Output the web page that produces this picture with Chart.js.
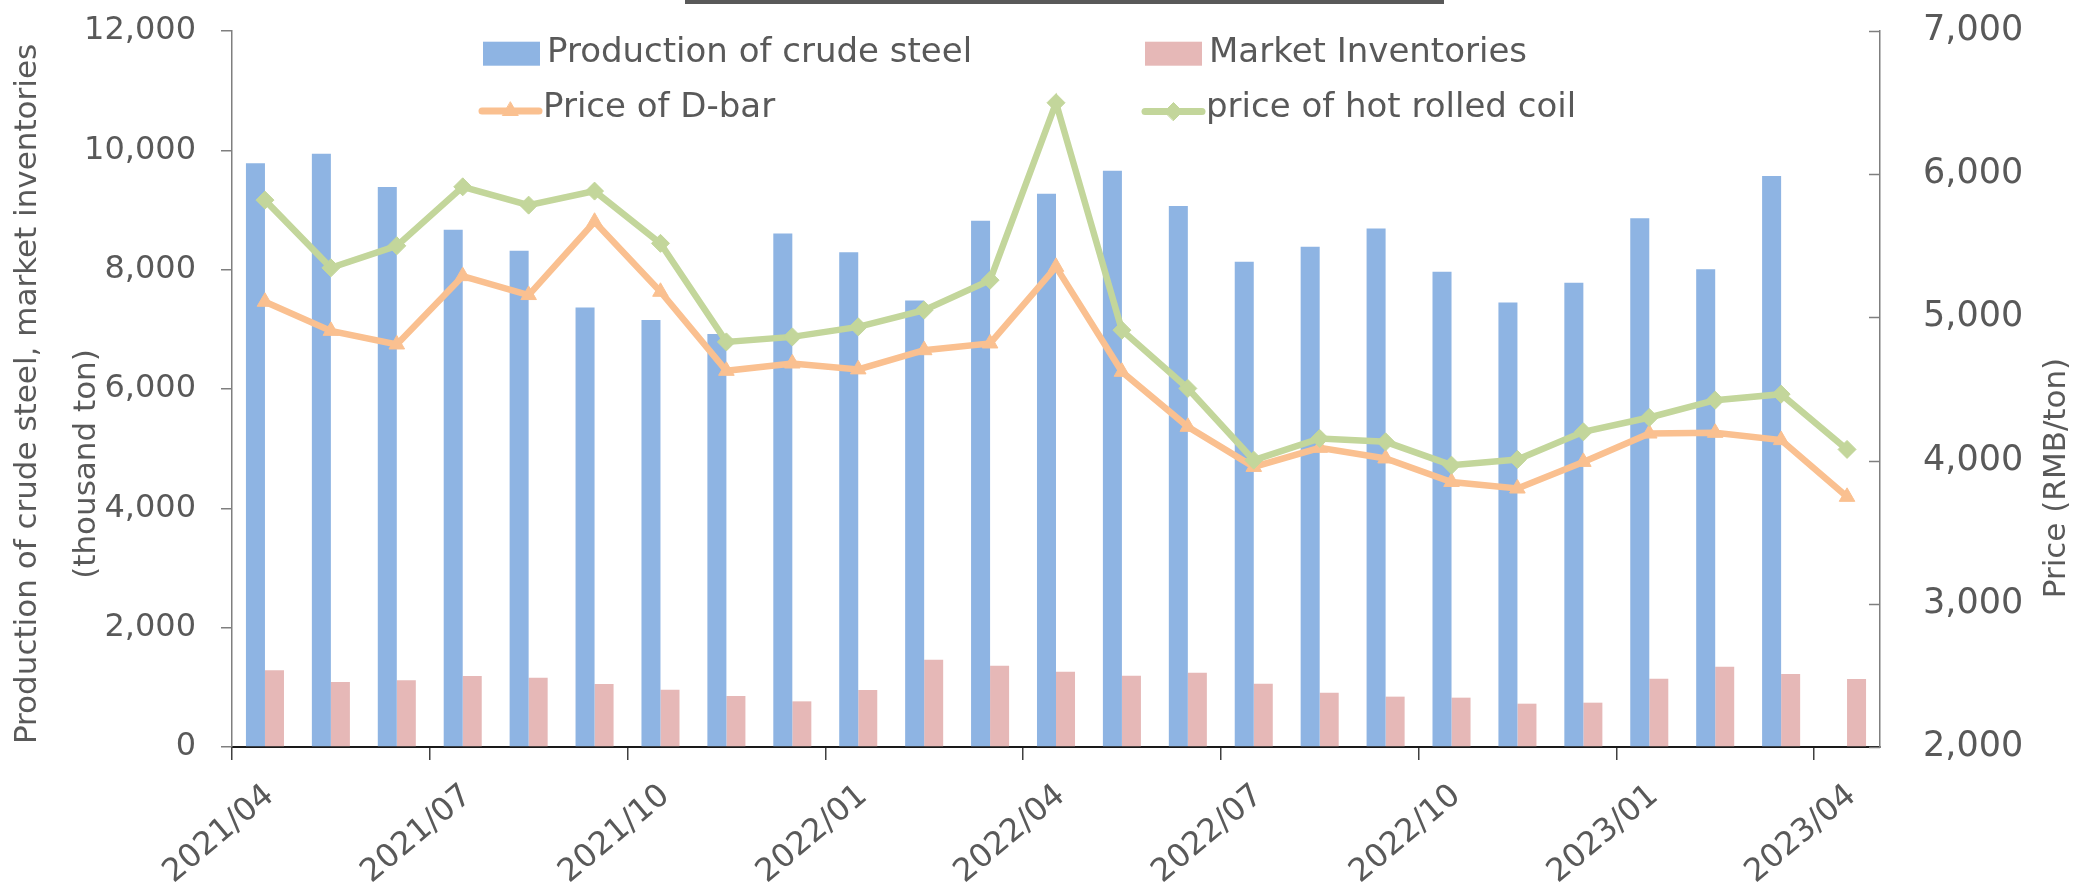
<!DOCTYPE html>
<html>
<head>
<meta charset="utf-8">
<script src="https://cdn.jsdelivr.net/npm/chart.js@4.4.1/dist/chart.umd.min.js"></script>
<style>
  html, body { margin: 0; padding: 0; background: #ffffff; }
  #wrap { position: relative; width: 2092px; height: 890px; }
  #topbar { position: absolute; left: 685px; top: 0; width: 759px; height: 4px; background: #595959; }
</style>
</head>
<body>
<div id="wrap">
  <canvas id="c"></canvas>
  <div id="topbar"></div>
</div>
<script>
// ---------------- data ----------------
const categories = [
  '2021/04','2021/05','2021/06','2021/07','2021/08','2021/09','2021/10','2021/11','2021/12',
  '2022/01','2022/02','2022/03','2022/04','2022/05','2022/06','2022/07','2022/08','2022/09',
  '2022/10','2022/11','2022/12','2023/01','2023/02','2023/03','2023/04'
];
const xTickLabels = ['2021/04','2021/07','2021/10','2022/01','2022/04','2022/07','2022/10','2023/01','2023/04'];
const production = [9782, 9943, 9385, 8669, 8317, 7367, 7155, 6920, 8608, 8290, 7485, 8820,
                    9272, 9658, 9066, 8132, 8384, 8692, 7965, 7451, 7780, 8860, 8005, 9569, null];
const inventories = [1285, 1089, 1117, 1190, 1162, 1056, 961, 855, 765, 955, 1464, 1363,
                     1263, 1196, 1246, 1061, 911, 844, 827, 726, 743, 1145, 1346, 1223, 1140];
const dBarPrice = [5109, 4906, 4811, 5288, 5156, 5668, 5179, 4627, 4678, 4637, 4771, 4818,
                   5353, 4620, 4236, 3956, 4089, 4015, 3851, 3805, 3991, 4189, 4194, 4143, 3747];
const hrcPrice = [5819, 5346, 5500, 5912, 5784, 5882, 5517, 4829, 4864, 4934, 5051, 5260,
                  6499, 4911, 4504, 4003, 4155, 4131, 3968, 4008, 4201, 4301, 4422, 4464, 4078];
const seriesNames = ['Production of crude steel', 'Market Inventories', 'Price of D-bar', 'price of hot rolled coil'];
const leftTitle = ['Production of crude steel, market inventories', '(thousand ton)'];
const rightTitle = 'Price (RMB/ton)';

// ---------------- styles ----------------
const FONT = "'DejaVu Sans', Verdana, sans-serif";
const TEXT = '#595959';
const BLUE = '#8EB4E3';
const PINK = '#E6B8B7';
const ORANGE = '#FAC090';
const GREEN = '#C3D69B';
const FRAME = { left: 232, right: 1880, top: 31, bottom: 747, width: 2092, height: 890 };

const toXY = arr => arr.map((v, i) => ({ x: i + 0.5, y: v }));

Chart.defaults.font.family = FONT;
Chart.defaults.color = TEXT;

// legend drawn inside the plot area, Excel-like 2x2 grid
const legendLayout = [
  { x: 483, y: 53.7, base: 61.7 },
  { x: 1145, y: 53.7, base: 61.7 },
  { x: 479, y: 111, base: 117.3 },
  { x: 1142, y: 111.5, base: 117.3 }
];

const excelLegend = {
  id: 'excelLegend',
  afterDraw(chart) {
    const ctx = chart.ctx;
    ctx.save();
    ctx.font = '34px ' + FONT;
    ctx.textBaseline = 'alphabetic';
    ctx.textAlign = 'left';
    chart.data.datasets.forEach((ds, i) => {
      const p = legendLayout[i];
      if (ds.type === 'bar') {
        ctx.fillStyle = ds.backgroundColor;
        ctx.fillRect(p.x, p.y - 12, 57, 24);
      } else {
        ctx.strokeStyle = ds.borderColor;
        ctx.lineWidth = 7;
        ctx.lineCap = 'round';
        ctx.beginPath();
        ctx.moveTo(p.x + 3, p.y);
        ctx.lineTo(p.x + 60, p.y);
        ctx.stroke();
        ctx.fillStyle = ds.pointBackgroundColor;
        ctx.strokeStyle = ds.pointBorderColor;
        ctx.lineWidth = 1;
        Chart.helpers.drawPoint(ctx, { pointStyle: ds.pointStyle, radius: ds.pointRadius, rotation: 0, borderWidth: 1 }, p.x + 31.5, p.y);
      }
      ctx.fillStyle = TEXT;
      ctx.fillText(ds.label, p.x + 64, p.base);
    });
    ctx.restore();
  }
};

const axisTitles = {
  id: 'axisTitles',
  afterDraw(chart) {
    const ctx = chart.ctx;
    ctx.save();
    ctx.fillStyle = TEXT;
    ctx.font = '31px ' + FONT;
    ctx.textAlign = 'center';
    ctx.textBaseline = 'middle';
    const draw = (t, x, y) => {
      ctx.save();
      ctx.translate(x, y);
      ctx.rotate(-Math.PI / 2);
      ctx.fillText(t, 0, 0);
      ctx.restore();
    };
    draw(leftTitle[0], 28, 394);
    draw(leftTitle[1], 87, 464);
    draw(rightTitle, 2057, 478);
    ctx.restore();
  }
};

// right axis has its tick marks pointing into the plot
const innerTicks = {
  id: 'innerTicks',
  afterDraw(chart) {
    const s = chart.scales.y2;
    const a = chart.chartArea;
    const ctx = chart.ctx;
    ctx.save();
    ctx.strokeStyle = '#7f7f7f';
    ctx.lineWidth = 1.5;
    s.ticks.forEach(t => {
      const py = Math.round(s.getPixelForValue(t.value)) + 0.5;
      ctx.beginPath();
      ctx.moveTo(a.right - 11, py);
      ctx.lineTo(a.right, py);
      ctx.stroke();
    });
    ctx.restore();
  }
};

const fitVertical = w => s => { s.width = w; s.paddingTop = 0; s.paddingBottom = 0; };

new Chart(document.getElementById('c'), {
  data: {
    datasets: [
      { type: 'bar', label: seriesNames[0], data: toXY(production), backgroundColor: BLUE, borderWidth: 0,
        yAxisID: 'y', order: 2, categoryPercentage: 0.577, barPercentage: 1.0 },
      { type: 'bar', label: seriesNames[1], data: toXY(inventories), backgroundColor: PINK, borderWidth: 0,
        yAxisID: 'y', order: 2, categoryPercentage: 0.577, barPercentage: 1.0 },
      { type: 'line', label: seriesNames[2], data: toXY(dBarPrice), borderColor: ORANGE, borderWidth: 6.5,
        pointStyle: 'triangle', pointRadius: 9, pointBackgroundColor: ORANGE, pointBorderColor: ORANGE,
        pointBorderWidth: 1, tension: 0, yAxisID: 'y2', order: 1, clip: false },
      { type: 'line', label: seriesNames[3], data: toXY(hrcPrice), borderColor: GREEN, borderWidth: 6.5,
        pointStyle: 'rectRot', pointRadius: 9, pointBackgroundColor: GREEN, pointBorderColor: GREEN,
        pointBorderWidth: 1, tension: 0, yAxisID: 'y2', order: 0, clip: false }
    ]
  },
  options: {
    responsive: true,
    maintainAspectRatio: false,
    animation: false,
    events: [],
    layout: { padding: { top: FRAME.top, left: 0, right: 0, bottom: 0 }, autoPadding: false },
    plugins: { legend: { display: false }, tooltip: { enabled: false }, title: { display: false } },
    scales: {
      x: {
        type: 'linear',
        position: 'bottom',
        min: 0,
        max: categories.length,
        offset: false,
        afterFit: s => { s.height = FRAME.height - FRAME.bottom; s.paddingLeft = 0; s.paddingRight = 0; },
        grid: { offset: false, drawOnChartArea: false, drawTicks: true, tickLength: 13, color: '#404040', lineWidth: 1.5 },
        border: { display: true, color: '#1a1a1a', width: 2 },
        ticks: {
          stepSize: 3,
          includeBounds: false,
          autoSkip: false,
          maxRotation: 40,
          minRotation: 40,
          padding: 17,
          labelOffset: 38,
          color: TEXT,
          font: { size: 32, family: FONT },
          callback: v => xTickLabels[Math.round(v / 3)] ?? ''
        }
      },
      y: {
        type: 'linear',
        position: 'left',
        min: 0,
        max: 12000,
        afterFit: fitVertical(FRAME.left),
        grid: { drawOnChartArea: false, drawTicks: true, tickLength: 11, color: '#7f7f7f', lineWidth: 1.5 },
        border: { display: true, color: '#7f7f7f', width: 1.5 },
        ticks: {
          stepSize: 2000,
          padding: 25,
          color: TEXT,
          font: { size: 32, family: FONT },
          callback: v => Number(v).toLocaleString('en-US')
        }
      },
      y2: {
        type: 'linear',
        position: 'right',
        min: 2000,
        max: 7000,
        afterFit: fitVertical(FRAME.width - FRAME.right),
        grid: { drawOnChartArea: false, drawTicks: false },
        border: { display: true, color: '#7f7f7f', width: 1.5 },
        ticks: {
          stepSize: 1000,
          padding: 43,
          color: TEXT,
          font: { size: 35, family: FONT },
          callback: v => Number(v).toLocaleString('en-US')
        }
      }
    }
  },
  plugins: [innerTicks, axisTitles, excelLegend]
});
</script>
</body>
</html>
